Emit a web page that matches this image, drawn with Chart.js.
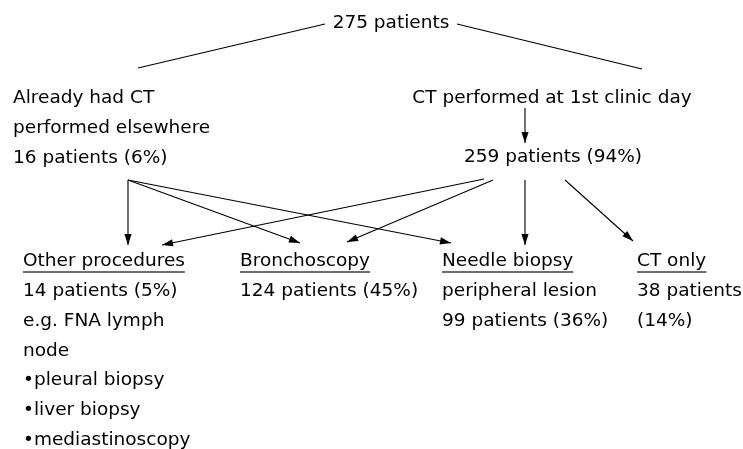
<!DOCTYPE html>
<html>
<head>
<meta charset="utf-8">
<script src="https://cdn.jsdelivr.net/npm/chart.js@4/dist/chart.umd.min.js"></script>
<style>
html,body{margin:0;padding:0;background:#fff;}
#wrap{width:743px;height:449px;position:relative;}
</style>
</head>
<body>
<div id="wrap"><canvas id="c" width="743" height="449"></canvas></div>
<script>
// ---- content (text of each node) ----
const nodeText = [
  ["275 patients"],
  ["Already had CT", "performed elsewhere", "16 patients (6%)"],
  ["CT performed at 1st clinic day"],
  ["259 patients (94%)"],
  ["Other procedures", "14 patients (5%)", "e.g. FNA lymph", "node", "\u2022pleural biopsy", "\u2022liver biopsy", "\u2022mediastinoscopy"],
  ["Bronchoscopy", "124 patients (45%)"],
  ["Needle biopsy", "peripheral lesion", "99 patients (36%)"],
  ["CT only", "38 patients", "(14%)"]
];
const nodeHeadingUnderlined = [false, false, false, false, true, true, true, true];

// ---- layout (data units of the hidden 743 x 449 scales) ----
const nodeX = [391, 13, 552, 553, 23, 240, 442, 637];
const nodeY = [23, 98, 98, 157, 261, 261, 261, 261];
const nodeAlign = ["center", "left", "center", "center", "left", "left", "left", "left"];
const lineStep = 29.9;

// ---- connectors ----
const edgeStart = [[325, 24], [457, 24], [525, 108], [128, 180], [128, 180], [128, 180], [484, 179], [493, 180], [525, 180], [565, 180]];
const edgeEnd   = [[138, 68], [642, 69], [525, 143], [128, 245], [300, 243], [451, 243], [162, 245], [347, 242], [525, 245], [633, 241]];
const edgeArrow = [false, false, true, true, true, true, true, true, true, true];

const FONT = '18.5px "DejaVu Sans"';

const datasets = edgeStart.map((s, i) => ({
  data: [{x: s[0], y: s[1]}, {x: edgeEnd[i][0], y: edgeEnd[i][1]}],
  showLine: true,
  borderColor: '#000',
  borderWidth: 1.1,
  pointRadius: 0,
  pointHoverRadius: 0,
  fill: false,
  arrow: edgeArrow[i]
}));

const flowPlugin = {
  id: 'flow',
  afterDatasetsDraw(chart) {
    const ctx = chart.ctx, xs = chart.scales.x, ys = chart.scales.y;
    ctx.save();
    // arrowheads
    chart.data.datasets.forEach((ds) => {
      if (!ds.arrow) return;
      const a = ds.data[0], b = ds.data[1];
      const x1 = xs.getPixelForValue(a.x), y1 = ys.getPixelForValue(a.y);
      const x2 = xs.getPixelForValue(b.x), y2 = ys.getPixelForValue(b.y);
      const ang = Math.atan2(y2 - y1, x2 - x1);
      const L = 11, W = 3.6;
      ctx.fillStyle = '#000';
      ctx.beginPath();
      ctx.moveTo(x2, y2);
      ctx.lineTo(x2 - L * Math.cos(ang) + W * Math.sin(ang), y2 - L * Math.sin(ang) - W * Math.cos(ang));
      ctx.lineTo(x2 - L * Math.cos(ang) - W * Math.sin(ang), y2 - L * Math.sin(ang) + W * Math.cos(ang));
      ctx.closePath();
      ctx.fill();
    });
    // texts
    ctx.font = FONT;
    ctx.fillStyle = '#000';
    ctx.textBaseline = 'middle';
    nodeText.forEach((lines, n) => {
      ctx.textAlign = nodeAlign[n];
      lines.forEach((t, k) => {
        const px = xs.getPixelForValue(nodeX[n]);
        const py = ys.getPixelForValue(nodeY[n] + k * lineStep);
        ctx.fillText(t, px, py);
        if (k === 0 && nodeHeadingUnderlined[n]) {
          const w = ctx.measureText(t).width;
          ctx.strokeStyle = '#6e6e6e';
          ctx.lineWidth = 2;
          ctx.beginPath();
          ctx.moveTo(px, py + 11);
          ctx.lineTo(px + w, py + 11);
          ctx.stroke();
        }
      });
    });
    ctx.restore();
  }
};

new Chart(document.getElementById('c'), {
  type: 'scatter',
  data: { datasets },
  options: {
    responsive: false,
    maintainAspectRatio: false,
    animation: false,
    events: [],
    layout: { padding: 0 },
    plugins: { legend: { display: false }, tooltip: { enabled: false } },
    scales: {
      x: { type: 'linear', min: 0, max: 743, display: false },
      y: { type: 'linear', min: 0, max: 449, reverse: true, display: false }
    }
  },
  plugins: [flowPlugin]
});
</script>
</body>
</html>
